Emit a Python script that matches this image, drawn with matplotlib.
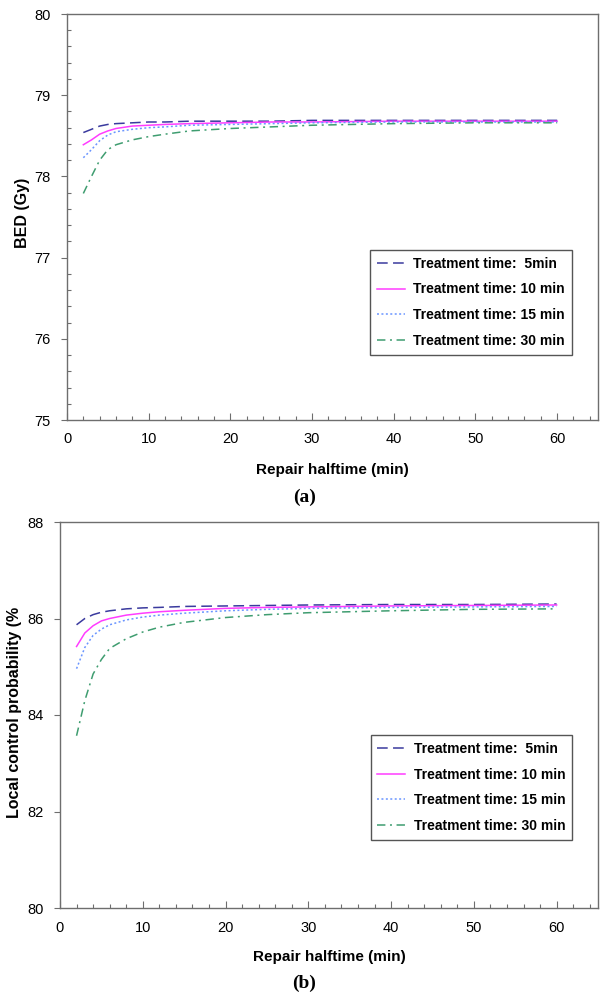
import numpy as np
import matplotlib
matplotlib.use('Agg')
import matplotlib.pyplot as plt
from matplotlib.ticker import MultipleLocator

plt.rcParams['font.family'] = ['Liberation Sans', 'DejaVu Sans']

# Repair halftime (min)
halftime = [2, 3, 4, 5, 6, 8, 10, 12, 15, 20, 25, 30, 40, 50, 60]

# (a) BED (Gy)
bed_5  = [78.54, 78.58, 78.62, 78.64, 78.65, 78.66, 78.67, 78.67, 78.68, 78.68, 78.68, 78.69, 78.69, 78.69, 78.69]
bed_10 = [78.39, 78.45, 78.52, 78.56, 78.59, 78.62, 78.63, 78.64, 78.65, 78.66, 78.67, 78.67, 78.68, 78.68, 78.68]
bed_15 = [78.23, 78.33, 78.44, 78.51, 78.55, 78.58, 78.60, 78.61, 78.63, 78.64, 78.65, 78.66, 78.67, 78.67, 78.67]
bed_30 = [77.79, 78.00, 78.20, 78.33, 78.39, 78.45, 78.49, 78.52, 78.56, 78.59, 78.61, 78.63, 78.65, 78.66, 78.66]

# (b) Local control probability (%)
lcp_5  = [85.87, 86.00, 86.08, 86.13, 86.16, 86.20, 86.22, 86.23, 86.25, 86.26, 86.27, 86.28, 86.29, 86.29, 86.30]
lcp_10 = [85.42, 85.70, 85.85, 85.95, 86.00, 86.07, 86.11, 86.14, 86.17, 86.21, 86.23, 86.24, 86.26, 86.27, 86.28]
lcp_15 = [84.96, 85.40, 85.65, 85.78, 85.87, 85.97, 86.03, 86.07, 86.11, 86.16, 86.19, 86.21, 86.23, 86.24, 86.25]
lcp_30 = [83.57, 84.30, 84.85, 85.15, 85.38, 85.58, 85.72, 85.82, 85.92, 86.02, 86.08, 86.12, 86.16, 86.19, 86.20]

labels = ['Treatment time:  5min', 'Treatment time: 10 min',
          'Treatment time: 15 min', 'Treatment time: 30 min']

# line styles per treatment time
styles = [
    dict(color='#3a3a9e', dashes=(7, 3.5)),
    dict(color='#ff3cff', linestyle='-'),
    dict(color='#6a95ff', dashes=(1.3, 1.6)),
    dict(color='#3f9d70', dashes=(5.5, 3, 1.3, 3)),
]

SPINE_COL = '#6e6e6e'
W, H = 604, 1000


def style_axes(ax, ylim, ymajor, yminor):
    ax.set_xlim(0, 65)
    ax.set_ylim(*ylim)
    ax.xaxis.set_major_locator(MultipleLocator(10))
    ax.xaxis.set_minor_locator(MultipleLocator(2))
    ax.yaxis.set_major_locator(MultipleLocator(ymajor))
    if yminor:
        ax.yaxis.set_minor_locator(MultipleLocator(yminor))
    ax.tick_params(axis='x', which='major', direction='in', length=5, width=0.8,
                   color=SPINE_COL, labelsize=10.5, pad=9)
    ax.tick_params(axis='x', which='minor', direction='in', length=3, width=0.8, color=SPINE_COL)
    ax.tick_params(axis='y', which='major', direction='out', length=4, width=0.8,
                   color=SPINE_COL, labelsize=10.5, pad=8)
    ax.tick_params(axis='y', which='minor', direction='in', length=3, width=0.8, color=SPINE_COL)
    for spine in ax.spines.values():
        spine.set_color(SPINE_COL)
        spine.set_linewidth(1.0)


def add_legend(ax, anchor):
    leg = ax.legend(loc='lower right', bbox_to_anchor=anchor, borderaxespad=0,
                    fancybox=False, framealpha=1, edgecolor='#555555',
                    prop=dict(family='Liberation Sans', weight='bold', size=10),
                    handlelength=2.0, handletextpad=0.6, labelspacing=0.85,
                    borderpad=0.5)
    leg.get_frame().set_linewidth(1.0)


fig = plt.figure(figsize=(W / 100, H / 100), dpi=100)

# (a)
ax1 = fig.add_axes([67 / W, 1 - 420 / H, 531 / W, 406 / H])
for y, lab, st in zip([bed_5, bed_10, bed_15, bed_30], labels, styles):
    ax1.plot(halftime, y, lw=1.1, label=lab, **st)
style_axes(ax1, (75, 80), 1, 0.2)
add_legend(ax1, (0.951, 0.160))
fig.text(23 / W, 1 - 213 / H, 'BED (Gy)', rotation=90, ha='center', va='center',
         fontsize=11.5, fontweight='bold')
fig.text(332 / W, 1 - 470 / H, 'Repair halftime (min)', ha='center', va='center',
         fontsize=11, fontweight='bold')
fig.text(305 / W, 1 - 497 / H, '(a)', ha='center', va='center', fontsize=14,
         fontweight='bold', family='Liberation Serif')

# (b)
ax2 = fig.add_axes([60 / W, 1 - 908 / H, 538 / W, 386 / H])
for y, lab, st in zip([lcp_5, lcp_10, lcp_15, lcp_30], labels, styles):
    ax2.plot(halftime, y, lw=1.1, label=lab, **st)
style_axes(ax2, (80, 88), 2, None)
add_legend(ax2, (0.952, 0.176))
fig.text(15 / W, 1 - 712 / H, 'Local control probability (%', rotation=90,
         ha='center', va='center', fontsize=11.5, fontweight='bold')
fig.text(329 / W, 1 - 957 / H, 'Repair halftime (min)', ha='center', va='center',
         fontsize=11, fontweight='bold')
fig.text(304 / W, 1 - 983 / H, '(b)', ha='center', va='center', fontsize=14,
         fontweight='bold', family='Liberation Serif')

fig.savefig('out.png', dpi=100)
plt.close(fig)
